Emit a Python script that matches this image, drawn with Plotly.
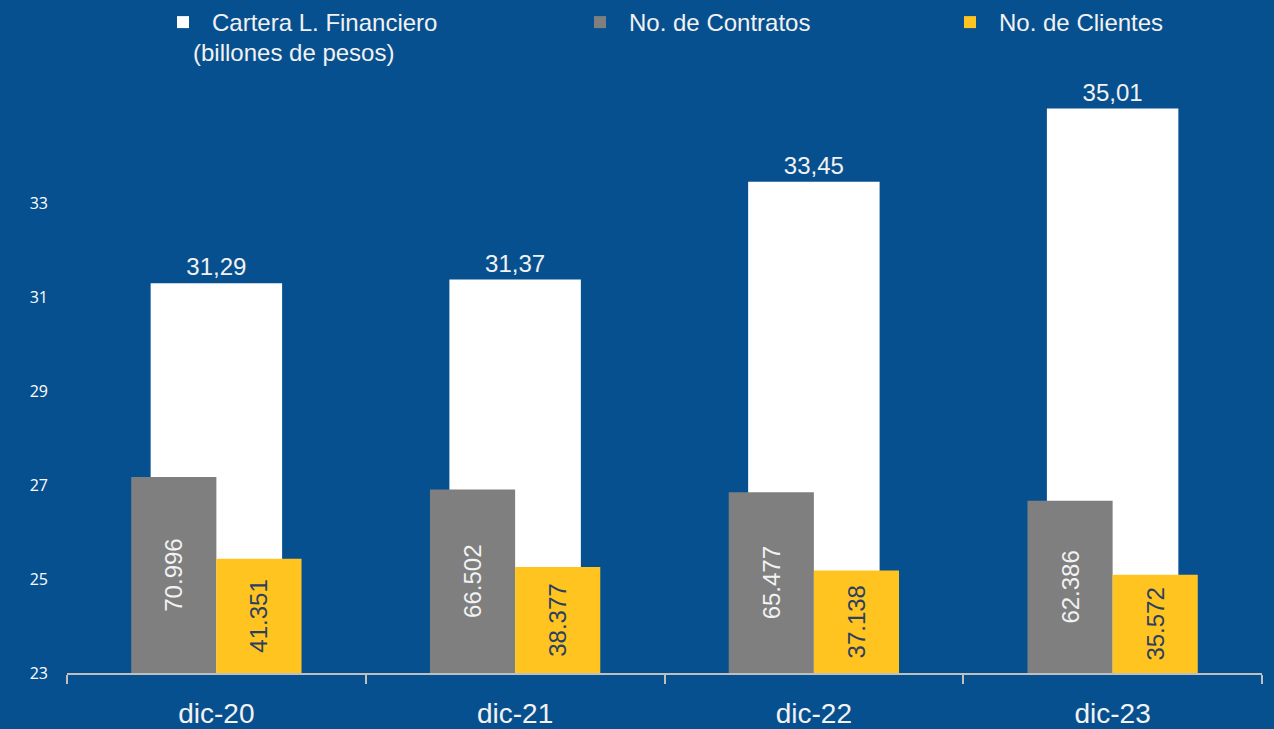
import plotly.graph_objects as go

categories = ["dic-20", "dic-21", "dic-22", "dic-23"]
cartera = [31.29, 31.37, 33.45, 35.01]
contratos = [70996, 66502, 65477, 62386]
clientes = [41351, 38377, 37138, 35572]
cartera_labels = ["31,29", "31,37", "33,45", "35,01"]
contratos_labels = ["70.996", "66.502", "65.477", "62.386"]
clientes_labels = ["41.351", "38.377", "37.138", "35.572"]
y_ticks = [23, 25, 27, 29, 31, 33]

BG = "#07508F"
WHITE = "#FFFFFF"
GRAY = "#7F7F7F"
YELLOW = "#FFC420"
LABEL_FONT = "Liberation Sans, Arial, sans-serif"

W, H = 1274, 729
ML, MR, MT, MB = 67, 12, 90, 56
plot_w = W - ML - MR
plot_h = H - MT - MB

def px_x(p):
    return (p - ML) / plot_w

def px_y(p):
    return (H - MB - p) / plot_h

fig = go.Figure()

fig.add_trace(go.Bar(
    x=categories, y=cartera, name="Cartera L. Financiero",
    marker=dict(color=WHITE, line=dict(width=0)),
    width=0.44, offset=-0.22,
    text=cartera_labels, textposition="outside", cliponaxis=False,
    textfont=dict(color="#F2F2F2", size=24, family=LABEL_FONT),
    legend="legend", yaxis="y",
))
fig.add_trace(go.Bar(
    x=categories, y=contratos, name="No. de Contratos",
    marker=dict(color=GRAY, line=dict(width=0)),
    width=0.285, offset=-0.285,
    text=contratos_labels, textposition="inside", textangle=-90,
    insidetextanchor="middle",
    textfont=dict(color="#F2F2F2", size=24, family=LABEL_FONT),
    legend="legend2", yaxis="y2",
))
fig.add_trace(go.Bar(
    x=categories, y=clientes, name="No. de Clientes",
    marker=dict(color=YELLOW, line=dict(width=0)),
    width=0.285, offset=0.0,
    text=clientes_labels, textposition="inside", textangle=-90,
    insidetextanchor="middle",
    textfont=dict(color="#2B3F63", size=24, family=LABEL_FONT),
    legend="legend3", yaxis="y2",
))

px_per_unit = 47.0
y_top = 23 + plot_h / px_per_unit
y2_top = plot_h / 0.00276

leg_common = dict(
    orientation="h", yanchor="top", xanchor="left", y=px_y(0),
    bgcolor="rgba(0,0,0,0)", borderwidth=0, itemwidth=48,
    font=dict(color="#F2F2F2", size=24, family=LABEL_FONT),
)

fig.update_layout(
    width=W, height=H,
    paper_bgcolor=BG, plot_bgcolor=BG,
    margin=dict(l=ML, r=MR, t=MT, b=MB, autoexpand=False),
    barmode="overlay",
    showlegend=True,
    legend=dict(x=px_x(154), **leg_common),
    legend2=dict(x=px_x(571), **leg_common),
    legend3=dict(x=px_x(941), **leg_common),
    xaxis=dict(
        type="category", range=[-0.5, 3.5],
        showline=True, linecolor="#BFBFBF", linewidth=2,
        ticks="outside", tickson="boundaries", ticklen=9,
        tickcolor="#BFBFBF", tickwidth=2, ticklabelstandoff=14,
        tickfont=dict(color="#F2F2F2", size=28, family=LABEL_FONT),
        showgrid=False, zeroline=False,
    ),
    yaxis=dict(
        range=[23, y_top], tickvals=y_ticks,
        ticktext=[str(v) for v in y_ticks],
        showgrid=False, zeroline=False, showline=False, ticks="",
        ticklabelstandoff=18,
        tickfont=dict(color="#FFFFFF", size=16, family="Open Sans, sans-serif"),
    ),
    yaxis2=dict(
        range=[0, y2_top], overlaying="y", visible=False,
        showgrid=False, zeroline=False,
    ),
    annotations=[dict(
        text="(billones de pesos)", xref="paper", yref="paper",
        x=px_x(191), y=px_y(53), xanchor="left", yanchor="middle",
        showarrow=False,
        font=dict(color="#F2F2F2", size=24, family=LABEL_FONT),
    )],
)

fig.write_html(
    "out.html",
    config={"displayModeBar": False},
    post_script="document.body.style.margin='0';document.body.style.overflow='hidden';",
)
